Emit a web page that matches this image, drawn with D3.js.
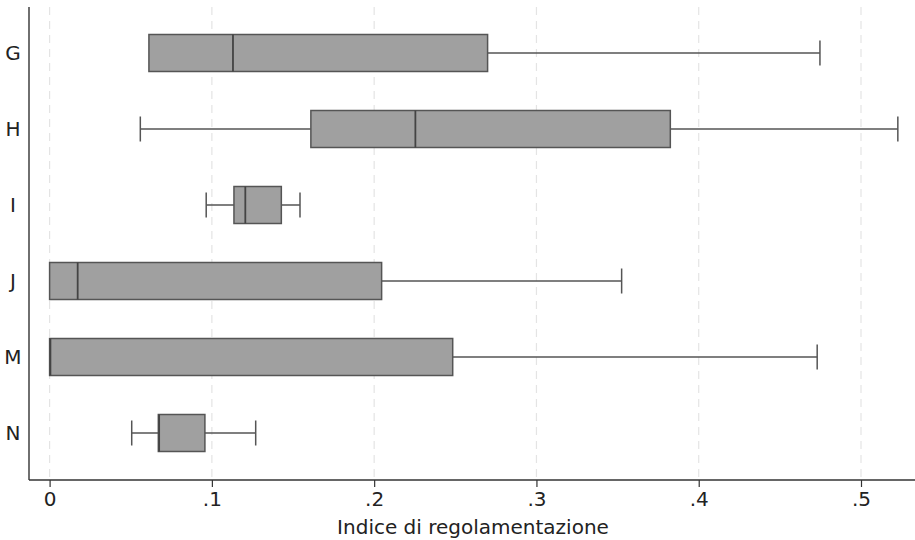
<!DOCTYPE html>
<html>
<head>
<meta charset="utf-8">
<script src="https://cdn.jsdelivr.net/npm/d3@7"></script>
<style>
  body { margin: 0; background: #fff; }
  svg text { font-family: "DejaVu Sans", sans-serif; fill: #222; }
</style>
</head>
<body>
<div id="chart"></div>
<script>
// box plot stats
const categories = ["G", "H", "I", "J", "M", "N"];
const lowWhisker = [0.0612, 0.0559, 0.0965, 0, 0, 0.0506];
const q1 = [0.0612, 0.161, 0.1136, 0, 0, 0.067];
const median = [0.113, 0.2254, 0.1206, 0.0173, 0.0005, 0.0675];
const q3 = [0.2699, 0.3825, 0.1428, 0.2046, 0.2484, 0.0957];
const highWhisker = [0.4747, 0.5227, 0.1543, 0.3525, 0.473, 0.127];
const xTicks = [0, 0.1, 0.2, 0.3, 0.4, 0.5];
const xTitle = "Indice di regolamentazione";

const data = categories.map((c, i) => ({
  cat: c, lo: lowWhisker[i], q1: q1[i], med: median[i], q3: q3[i], hi: highWhisker[i]
}));

const width = 915, height = 540;
const axisX = 29, axisY = 480, plotTop = 7;

const svg = d3.select("#chart")
  .append("svg")
    .attr("width", width)
    .attr("height", height);

const x = d3.scaleLinear()
  .domain([0, 0.5])
  .range([49.6, 861]);

const y = d3.scalePoint()
  .domain(categories)
  .range([53, 433]);

const boxH = 37, capH = 25;
const stroke = "#555";

// dashed grid lines
svg.append("g")
  .selectAll("line")
  .data(xTicks)
  .join("line")
    .attr("x1", d => x(d))
    .attr("x2", d => x(d))
    .attr("y1", plotTop)
    .attr("y2", axisY)
    .attr("stroke", "#e4e4e4")
    .attr("stroke-width", 1.2)
    .attr("stroke-dasharray", "8,6");

// x axis
const xAxis = svg.append("g")
  .attr("transform", `translate(0,${axisY})`)
  .call(d3.axisBottom(x)
    .tickValues(xTicks)
    .tickSize(7)
    .tickPadding(5)
    .tickFormat(d => d === 0 ? "0" : d3.format(".1f")(d).replace(/^0/, "")));
xAxis.select(".domain").remove();
xAxis.selectAll(".tick line").attr("stroke", "#333").attr("stroke-width", 1.2);
xAxis.selectAll(".tick text")
  .attr("font-size", 20)
  .attr("font-family", "DejaVu Sans, sans-serif")
  .attr("fill", "#222");

// axis lines
svg.append("line")
  .attr("x1", axisX).attr("x2", width)
  .attr("y1", axisY).attr("y2", axisY)
  .attr("stroke", "#333").attr("stroke-width", 1.4);
svg.append("line")
  .attr("x1", axisX).attr("x2", axisX)
  .attr("y1", plotTop).attr("y2", axisY)
  .attr("stroke", "#333").attr("stroke-width", 1.4);

// category labels
svg.append("g")
  .selectAll("text")
  .data(categories)
  .join("text")
    .attr("x", 13)
    .attr("y", d => y(d))
    .attr("dy", "0.36em")
    .attr("text-anchor", "middle")
    .attr("font-size", 20)
    .text(d => d);

// x title
svg.append("text")
  .attr("x", 473)
  .attr("y", 534)
  .attr("text-anchor", "middle")
  .attr("font-size", 20)
  .text(xTitle);

const boxes = svg.append("g")
  .selectAll("g")
  .data(data)
  .join("g");

// whiskers
boxes.append("line")
  .attr("x1", d => x(d.lo)).attr("x2", d => x(d.q1))
  .attr("y1", d => y(d.cat)).attr("y2", d => y(d.cat))
  .attr("stroke", stroke).attr("stroke-width", 1.5);
boxes.append("line")
  .attr("x1", d => x(d.q3)).attr("x2", d => x(d.hi))
  .attr("y1", d => y(d.cat)).attr("y2", d => y(d.cat))
  .attr("stroke", stroke).attr("stroke-width", 1.5);

// caps (only where the whisker has length)
boxes.filter(d => d.lo < d.q1).append("line")
  .attr("x1", d => x(d.lo)).attr("x2", d => x(d.lo))
  .attr("y1", d => y(d.cat) - capH / 2).attr("y2", d => y(d.cat) + capH / 2)
  .attr("stroke", stroke).attr("stroke-width", 1.5);
boxes.filter(d => d.hi > d.q3).append("line")
  .attr("x1", d => x(d.hi)).attr("x2", d => x(d.hi))
  .attr("y1", d => y(d.cat) - capH / 2).attr("y2", d => y(d.cat) + capH / 2)
  .attr("stroke", stroke).attr("stroke-width", 1.5);

// box
boxes.append("rect")
  .attr("x", d => x(d.q1))
  .attr("y", d => y(d.cat) - boxH / 2)
  .attr("width", d => x(d.q3) - x(d.q1))
  .attr("height", boxH)
  .attr("fill", "#a0a0a0")
  .attr("stroke", stroke)
  .attr("stroke-width", 1.5);

// median
boxes.append("line")
  .attr("x1", d => x(d.med)).attr("x2", d => x(d.med))
  .attr("y1", d => y(d.cat) - boxH / 2).attr("y2", d => y(d.cat) + boxH / 2)
  .attr("stroke", "#444").attr("stroke-width", 1.8);
</script>
</body>
</html>
